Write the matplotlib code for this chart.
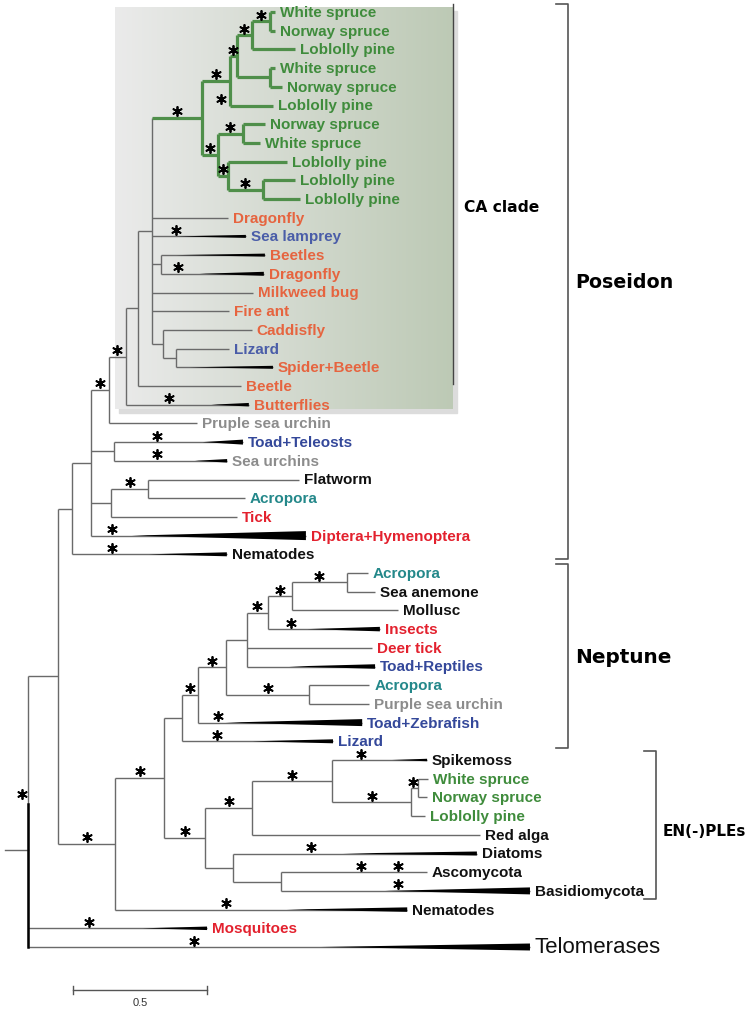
import matplotlib.pyplot as plt
import numpy as np
from matplotlib.patches import Polygon, Rectangle

plt.rcParams['font.family'] = ['Liberation Sans', 'DejaVu Sans']

# tree in newick pieces, branch lengths in substitutions per site
conifers = ("(((((White spruce:0.019,Norway spruce:0.019)GA:0.067,Loblolly pine:0.160)G4:0.056,"
            "(White spruce:0.019,Norway spruce:0.045)GB:0.123)G5:0.026,Loblolly pine:0.160)G6:0.104,"
            "((Norway spruce:0.082,White spruce:0.063)G8:0.093,"
            "(Loblolly pine:0.220,(Loblolly pine:0.119,Loblolly pine:0.138)LL:0.131)G9:0.037)G7:0.060)G0:0.187")
ca_rest = ("Dragonfly:0.284,Sea lamprey:0.351,(Beetles:0.388,Dragonfly:0.384)BD:0.034,"
           "Milkweed bug:0.377,Fire ant:0.287,"
           "(Caddisfly:0.332,(Lizard:0.198,Spider+Beetle:0.362)W:0.049)V:0.041")
poseidon_rest = ("(Toad+Teleosts:0.481,Sea urchins:0.422)TS:0.086,"
                 "((Flatworm:0.563,Acropora:0.362)FA:0.138,Tick:0.470)FAT:0.075,"
                 "Diptera+Hymenoptera:0.802")
neptune = ("(((((((Acropora:0.078,Sea anemone:0.104)N7:0.205,Mollusc:0.396)N6:0.090,Insects:0.418)N5:0.078,"
           "Deer tick:0.466,Toad+Reptiles:0.478)N3:0.078,"
           "(Acropora:0.224,Purple sea urchin:0.224)N4:0.310)N2:0.104,"
           "Toad+Zebrafish:0.612)N1:0.060,Lizard:0.563)N0:0.067")
enples = ("(((Spikemoss:0.354,((White spruce:0.037,Norway spruce:0.034)E4:0.026,Loblolly pine:0.052)E3:0.295)E2:0.299,"
          "Red alga:0.851)E1:0.175,"
          "(Diatoms:0.910,(Ascomycota:0.545,Basidiomycota:0.929)E6:0.179)E5:0.104)E0:0.153")

newick = ("((((((((" + conifers + "," + ca_rest + ")U:0.052,Beetle:0.384)T:0.045,Butterflies:0.459)S:0.063,"
          "Pruple sea urchin:0.328)R:0.067," + poseidon_rest + ")Q:0.071,Nematodes:0.578)P:0.052,"
          "((" + neptune + "," + enples + ")C:0.183,Nematodes:1.090)B:0.213)A:0.112,"
          "Mosquitoes:0.668,Telomerases:1.873)root;")

G, O, BL, GY, TL, RD, K = '#3f8c3c', '#e6643f', '#34489a', '#8c8c8c', '#24888a', '#e3212e', '#111111'
tip_colors = [G] * 11 + [O, '#4a5da8', O, O, O, O, O, '#4a5da8', O, O, O] + \
             [GY, BL, GY, K, TL, RD, RD, K] + \
             [TL, K, K, RD, RD, BL, TL, GY, BL, BL] + \
             [K, G, G, G, K, K, K, K, K] + [RD, K]

# collapsed clades drawn as wedges: tip index, depth, end thickness (px)
wedge_tips = [12, 13, 14, 19, 21, 23, 24, 28, 29, 33, 35, 38, 39, 40, 45, 47, 48, 49, 50]
wedge_depth = [0.26, 0.33, 0.24, 0.31, 0.14, 0.15, 0.12, 0.65, 0.29, 0.27, 0.32, 0.51, 0.30,
               0.13, 0.50, 0.54, 0.45, 0.24, 0.78]
wedge_width = [3, 3, 4, 3, 3.5, 5, 3.5, 9, 4, 4.5, 4.5, 7, 4, 2.5, 4, 7, 4.5, 3.5, 7]

# supported branches (asterisks): node name or tip index, position along branch
support_nodes = ['G0', 'G6', 'G5', 'G4', 'GA', 5, 'G8', 'G7', 'G9', 'LL',
                 12, 14, 21, 'S', 'R', 23, 24, 'FA', 28, 29,
                 'N7', 'N6', 'N5', 33, 'N2', 'N1', 'N4', 38, 39,
                 'C', 'B', 'E0', 'E1', 'E2', 40, 'E3', 'E4', 45, 46, 46, 47, 48, 49, 50]
support_frac = [0.5, 0.5, 0.5, 0.5, 0.5, -0.2, 0.5, 0.5, 0.5, 0.5,
                0.26, 0.17, 0.35, 0.5, 0.5, 0.33, 0.38, 0.5, 0.1, 0.26,
                0.5, 0.5, 0.5, 0.21, 0.5, 0.5, 0.5, 0.12, 0.23,
                0.5, 0.5, 0.5, 0.5, 0.5, 0.3, 0.5, 0.3, 0.32, 0.55, 0.8, 0.47, 0.38, 0.34, 0.33]


def parse(s):
    pos = 0

    def node():
        nonlocal pos
        kids = []
        if s[pos] == '(':
            pos += 1
            kids.append(node())
            while s[pos] == ',':
                pos += 1
                kids.append(node())
            pos += 1
        start = pos
        while s[pos] not in ':,);':
            pos += 1
        name = s[start:pos]
        length = 0.0
        if s[pos] == ':':
            pos += 1
            start = pos
            while s[pos] not in ',);':
                pos += 1
            length = float(s[start:pos])
        return {'name': name, 'len': length, 'kids': kids}

    return node()


tree = parse(newick)
tips = []
internal = {}


def layout(n, x, parent):
    n['x'] = x + n['len']
    n['parent'] = parent
    if not n['kids']:
        n['y'] = len(tips)
        tips.append(n)
    else:
        internal[n['name']] = n
        for k in n['kids']:
            layout(k, n['x'], n)
        n['y'] = (n['kids'][0]['y'] + n['kids'][-1]['y']) / 2


layout(tree, 0.0, None)
tree['y'] = np.mean([k['y'] for k in tree['kids']])


def mark_green(n):
    n['green'] = True
    for k in n['kids']:
        mark_green(k)


mark_green(internal['G0'])

PX = 1 / 268.0   # x units per pixel
PY = 1 / 18.7    # y units per pixel

fig = plt.figure(figsize=(7.5, 10.12), dpi=100)
ax = fig.add_axes([0, 0, 1, 1])
ax.set_xlim(-28 * PX, 722 * PX)
ax.set_ylim(999 * PY, -13 * PY)
ax.axis('off')

# shaded CA clade box
bx0, bx1, by0, by1 = 87 * PX, 425 * PX, -5 * PY, 397 * PY
ax.add_patch(Rectangle((bx0 + 4 * PX, by0 + 4 * PY), bx1 - bx0, by1 - by0, color='#dcdcdc', zorder=0))
grad = np.linspace(0, 1, 256)[None, :, None]
left, right = np.array([0.92, 0.92, 0.92]), np.array([0.74, 0.79, 0.71])
ax.imshow(left + (right - left) * grad, extent=(bx0, bx1, by1, by0), aspect='auto', zorder=1)
ax.plot([bx1, bx1], [-8 * PY, 372 * PY], color='#444444', lw=1.0, zorder=2)
ax.text(bx1 + 11 * PX, 195 * PY, 'CA clade', fontsize=11.2, fontweight='bold',
        family='DejaVu Sans', va='center', ha='left')


def draw(n):
    col = '#4f8f4a' if n.get('green') else '#6a6a6a'
    lw = 2.3 if n.get('green') else 1.0
    if n['parent'] is not None:
        ax.plot([n['parent']['x'], n['x']], [n['y'], n['y']], color=col, lw=lw,
                solid_capstyle='butt', zorder=3)
    if n['kids']:
        ax.plot([n['x'], n['x']], [n['kids'][0]['y'], n['kids'][-1]['y']], color=col, lw=lw,
                solid_capstyle='butt', zorder=3)
        for k in n['kids']:
            draw(k)


draw(tree)
ax.plot([tree['x'] - 23 * PX, tree['x']], [tree['y'], tree['y']], color='#6a6a6a', lw=1.0, zorder=3)
ax.plot([tree['x'], tree['x']], [tree['y'] - 2.5, tips[-1]['y']], color='black', lw=1.8, zorder=3)
ax.scatter([tree['x'] - 6 * PX], [tree['y'] - 3.0], marker=(6, 2, 0), s=44, color='black',
           linewidths=1.3, zorder=5)

for i, d, w in zip(wedge_tips, wedge_depth, wedge_width):
    t = tips[i]
    h = w * PY / 2
    ax.add_patch(Polygon([(t['x'] - d, t['y']), (t['x'], t['y'] - h), (t['x'], t['y'] + h)],
                         closed=True, color='black', lw=0, zorder=4))

for i, t in enumerate(tips):
    if t['name'] == 'Telomerases':
        ax.text(t['x'] + 5 * PX, t['y'], t['name'], fontsize=16, color=tip_colors[i],
                va='center', ha='left', zorder=5)
    else:
        ax.text(t['x'] + 5 * PX, t['y'], t['name'], fontsize=11, fontweight='bold',
                color=tip_colors[i], va='center', ha='left', zorder=5)

sx, sy = [], []
for key, f in zip(support_nodes, support_frac):
    n = tips[key] if isinstance(key, int) else internal[key]
    p = n['parent']
    sx.append(p['x'] + f * (n['x'] - p['x']))
    sy.append(n['y'] - 6.5 * PY)
ax.scatter(sx, sy, marker=(6, 2, 0), s=44, color='black', linewidths=1.3, zorder=5)

# clade brackets
brackets = [(540, -8, 547, 'Poseidon', 13.7, 270), (540, 552, 736, 'Neptune', 14.4, 645),
            (628, 739, 887, 'EN(-)PLEs', 11, 819)]
for bxp, ya, yb, lab, fs, ly in brackets:
    x = bxp * PX
    ax.plot([x - 12 * PX, x, x, x - 12 * PX], [ya * PY, ya * PY, yb * PY, yb * PY],
            color='#555555', lw=1.2)
    ax.text(x + 7 * PX, ly * PY, lab, fontsize=fs, fontweight='bold', family='DejaVu Sans',
            va='center', ha='left')

# scale bar
ax.plot([45 * PX, 45 * PX + 0.5], [978 * PY, 978 * PY], color='#555555', lw=1.0)
for xe in [45 * PX, 45 * PX + 0.5]:
    ax.plot([xe, xe], [974 * PY, 982 * PY], color='#555555', lw=1.0)
ax.text(45 * PX + 0.25, 985 * PY, '0.5', fontsize=8, ha='center', va='top', color='#333333')

fig.savefig('out.png', dpi=100)
